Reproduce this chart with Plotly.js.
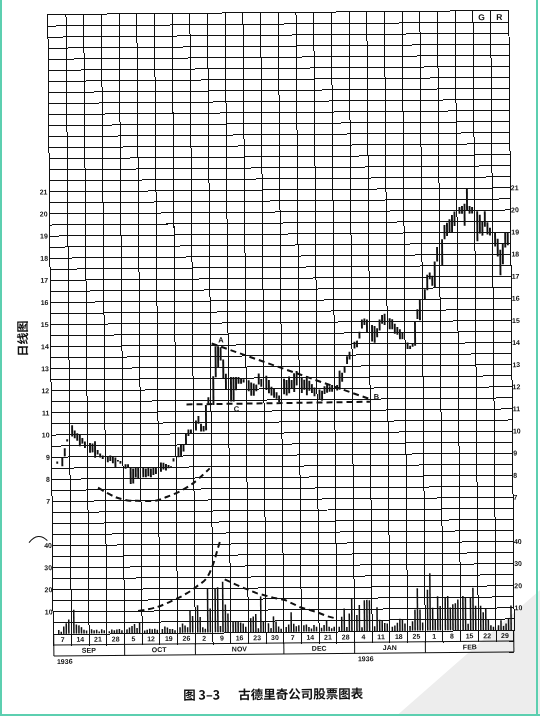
<!DOCTYPE html>
<html><head><meta charset="utf-8">
<script src="https://cdn.plot.ly/plotly-3.0.1.min.js"></script>
<style>
html,body{margin:0;padding:0;background:#fff;overflow:hidden;width:540px;height:716px;}
#chart{position:absolute;left:0;top:0;width:540px;height:716px;transform:rotate(-0.5deg);transform-origin:281px 322.5px;filter:grayscale(100%);}
.edge{position:absolute;background:#5ccfb0;}
</style></head>
<body>
<div id="chart"></div>
<div class="edge" style="left:0;top:0;width:2px;height:716px"></div>
<div class="edge" style="left:536px;top:0;width:2px;height:716px"></div>
<div class="edge" style="left:0;top:714px;width:540px;height:2px"></div>
<script>
// ---------- data ----------
const weekEnding = ['1935-09-07','1935-09-14','1935-09-21','1935-09-28','1935-10-05','1935-10-12','1935-10-19','1935-10-26',
  '1935-11-02','1935-11-09','1935-11-16','1935-11-23','1935-11-30','1935-12-07','1935-12-14','1935-12-21','1935-12-28',
  '1936-01-04','1936-01-11','1936-01-18','1936-01-25','1936-02-01','1936-02-08','1936-02-15','1936-02-22','1936-02-29'];
const weekLabels = ['7','14','21','28','5','12','19','26','2','9','16','23','30','7','14','21','28','4','11','18','25','1','8','15','22','29'];
const monthNames = ['SEP','OCT','NOV','DEC','JAN','FEB'];
const monthWeekCount = [4,4,5,4,4,5];
const yearLabels = ['1936','1936'];
const yearStartWeek = [0,17];
const priceTickLabels = [7,8,9,10,11,12,13,14,15,16,17,18,19,20,21];
const volumeTickLabels = [10,20,30,40];

// daily high / low (Mon..Sat of each week), volume
const dayHigh = [
 [null,8.8,null,8.96,9.4,9.8],
 [10.44,10.2,10.07,10.0,9.85,9.7],
 [9.63,9.6,9.7,9.3,9.15,9.05],
 [9.0,9.05,9.0,8.96,8.82,8.8],
 [8.65,8.65,8.5,8.45,8.5,8.5],
 [8.5,8.45,8.5,8.45,8.5,8.5],
 [8.72,8.7,8.65,8.6,8.52,8.9],
 [9.4,9.5,9.5,10.0,10.2,10.2],
 [10.6,10.8,10.45,10.35,11.3,11.65],
 [12.6,13.95,13.95,13.9,13.35,12.7],
 [12.55,12.55,12.55,12.55,12.5,12.45],
 [12.4,12.3,12.25,12.2,12.7,12.45],
 [12.6,12.4,12.1,12.0,11.85,11.7],
 [12.45,12.4,12.55,12.4,12.7,12.8],
 [12.5,12.4,12.55,12.35,12.2,12.05],
 [11.95,11.9,12.1,12.15,12.1,12.15],
 [12.15,12.8,12.7,13.0,13.45,13.65],
 [14.1,14.15,14.55,15.1,15.15,15.1],
 [14.85,14.8,14.7,15.1,15.3,15.35],
 [15.15,15.1,14.9,14.75,14.65,14.5],
 [14.05,13.9,14.0,15.0,15.55,16.0],
 [16.45,17.1,17.2,17.05,17.7,18.35],
 [18.7,19.35,19.45,19.6,19.8,19.95],
 [20.15,20.2,20.3,21.0,20.2,20.15],
 [19.95,19.8,19.5,19.95,19.45,19.2],
 [19.0,18.7,18.2,18.5,19.0,19.0]
];
const dayLow = [
 [null,8.7,null,8.58,9.03,9.7],
 [9.93,9.85,9.73,9.48,9.6,9.4],
 [9.18,9.2,8.96,9.1,8.96,8.9],
 [8.75,8.8,8.7,8.5,8.78,8.68],
 [8.45,8.5,7.75,7.78,8.05,8.0],
 [8.05,8.05,8.1,8.05,8.15,8.2],
 [8.3,8.4,8.35,8.45,8.47,8.75],
 [8.95,9.0,9.2,9.5,9.9,10.0],
 [10.15,10.45,10.1,10.1,10.15,11.35],
 [11.3,12.55,13.0,13.3,12.5,12.0],
 [11.45,11.45,11.95,12.25,12.25,12.3],
 [11.9,11.7,11.7,11.9,12.2,12.1],
 [11.95,11.8,11.7,11.6,11.55,11.4],
 [11.75,11.7,11.8,12.0,11.85,12.15],
 [11.8,11.95,11.7,11.9,11.8,11.65],
 [11.5,11.45,11.75,11.8,11.85,11.85],
 [11.9,11.95,12.3,12.7,13.1,13.3],
 [13.8,13.85,14.25,14.7,14.85,14.5],
 [14.1,14.05,14.3,14.6,14.9,14.85],
 [14.65,14.65,14.45,14.4,14.2,14.2],
 [13.75,13.75,13.85,13.9,15.1,15.05],
 [16.0,16.4,16.9,16.6,16.55,17.7],
 [17.5,18.7,18.85,19.0,19.0,19.3],
 [19.85,19.85,19.3,20.0,19.85,19.85],
 [18.6,18.95,18.85,19.25,18.9,18.85],
 [18.35,17.9,17.05,17.55,18.3,18.4]
];
const dayVolume = [
 [null,1.8,1.0,3.3,4.8,6.5],
 [10.9,4.2,3.8,3.0,1.8,1.5],
 [2.0,1.5,1.8,1.0,2.0,1.5],
 [1.0,1.8,1.5,1.8,2.0,1.4],
 [1.8,2.6,3.3,4.2,2.4,4.8],
 [1.2,1.5,2.0,1.8,2.0,1.5],
 [1.8,3.0,2.5,1.8,1.8,1.2],
 [2.5,4.2,3.3,2.5,10.0,7.6],
 [12.4,7.1,2.5,1.8,20.0,10.9],
 [20.0,20.5,3.0,23.0,12.7,8.6],
 [4.8,4.8,5.0,4.5,4.0,2.5],
 [6.4,7.1,8.2,1.8,16.2,4.8],
 [4.0,1.8,7.1,4.8,2.5,1.5],
 [2.2,3.4,8.9,3.7,2.5,3.0],
 [3.0,3.3,2.2,1.5,3.0,2.2],
 [1.8,3.0,5.2,2.2,1.5,2.2],
 [2.2,6.7,10.4,2.0,8.1,14.8],
 [7.4,11.9,1.8,14.0,14.2,14.0],
 [2.2,10.8,5.2,4.9,3.7,3.4],
 [1.9,2.5,3.7,5.5,5.2,3.4],
 [2.2,4.4,9.6,19.3,9.6,3.7],
 [18.5,26.0,10.4,5.2,15.6,11.1],
 [14.8,15.6,10.4,11.9,12.3,14.0],
 [15.6,14.8,3.0,14.8,19.3,11.1],
 [11.1,8.1,9.6,4.9,2.2,1.5],
 [2.2,4.4,1.9,3.0,5.2,11.1]
];

// hand-drawn dashed study lines
const roundingBottomDates = ['1935-09-19 13:00','1935-09-26 19:00','1935-10-02 02:00','1935-10-05 02:00','1935-10-12 16:00','1935-10-16 15:00','1935-10-21 22:00','1935-10-27 03:00','1935-11-02 19:00'];
const roundingBottomPrices = [7.6,7.15,7.0,6.99,7.0,7.15,7.4,7.76,8.43];
const triangleTopDates = ['1935-11-04 00:00','1936-01-05 10:00'];
const triangleTopPrices = [14.08,11.5];
const triangleBaseDates = ['1935-10-24 20:00','1936-01-05 10:00'];
const triangleBasePrices = [11.33,11.38];
const volumeRiseDates = ['1935-10-04 23:00','1935-10-12 06:00','1935-10-18 19:00','1935-10-24 02:00','1935-10-28 02:00','1935-11-01 01:00','1935-11-03 17:00','1935-11-05 17:00','1935-11-07 00:00'];
const volumeRiseValues = [10.1,11.7,14.7,17.7,20.8,24.5,30.6,38,42.7];
const volumeFallDates = ['1935-11-08 08:00','1935-11-14 07:00','1935-11-20 22:00','1935-11-27 12:00','1935-12-02 03:00','1935-12-08 02:00','1935-12-14 16:00','1935-12-18 16:00','1935-12-21 23:00'];
const volumeFallValues = [24,20.8,17.7,15.5,14.5,11.1,8.9,7,6];
const pointLabels = ['A','B','C'];
const pointLabelDates = ['1935-11-07 19:00','1936-01-08 00:00','1935-11-13 14:00'];
const pointLabelPrices = [14.25,11.6,11.1];
const cornerLabels = ['G','R'];
const cornerLabelWeeks = [24,25];

// ---------- helpers ----------
const DAY = 86400000, HOUR = 3600000;
function toMs(s){ const p=s.split(' '); const d=p[0].split('-').map(Number); let h=0,mi=0; if(p[1]){const t=p[1].split(':').map(Number);h=t[0];mi=t[1];} return Date.UTC(d[0],d[1]-1,d[2],h,mi); }
function toStr(ms){ return new Date(ms).toISOString().slice(0,16).replace('T',' '); }
const weekStart = w => toMs(weekEnding[w]) - 6*DAY + 12*HOUR;
const weekEnd = w => toMs(weekEnding[w]) + DAY + 12*HOUR;
const weekCenter = w => toMs(weekEnding[w]) - 2*DAY;
const xRange = [toStr(weekStart(0)), toStr(weekEnd(weekEnding.length-1))];

const bx=[], bBase=[], bH=[], vx=[], vy=[];
for(let w=0; w<weekEnding.length; w++){
  for(let d=0; d<6; d++){
    const x = toStr(toMs(weekEnding[w]) - (5-d)*DAY + 12*HOUR);
    if(dayHigh[w][d]!=null){ bx.push(x); bBase.push(dayLow[w][d]); bH.push(Math.max(dayHigh[w][d]-dayLow[w][d],0.07)); }
    if(dayVolume[w][d]!=null){ vx.push(x); vy.push(dayVolume[w][d]); }
  }
}

const INK = '#111';
const dashLine = {color:INK, width:2, dash:'6px,4px'};
const traces = [
  {type:'bar', x:bx, base:bBase, y:bH, width:0.75*DAY, marker:{color:INK, line:{width:0}}, xaxis:'x', yaxis:'y'},
  {type:'bar', x:vx, y:vy, width:0.6*DAY, marker:{color:INK, line:{width:0}}, xaxis:'x2', yaxis:'y2'},
  {type:'scatter', mode:'lines', x:roundingBottomDates, y:roundingBottomPrices, line:Object.assign({shape:'spline'},dashLine), xaxis:'x', yaxis:'y'},
  {type:'scatter', mode:'lines', x:triangleTopDates, y:triangleTopPrices, line:dashLine, xaxis:'x', yaxis:'y'},
  {type:'scatter', mode:'lines', x:triangleBaseDates, y:triangleBasePrices, line:dashLine, xaxis:'x', yaxis:'y'},
  {type:'scatter', mode:'lines', x:volumeRiseDates, y:volumeRiseValues, line:Object.assign({shape:'spline'},dashLine), xaxis:'x2', yaxis:'y2'},
  {type:'scatter', mode:'lines', x:volumeFallDates, y:volumeFallValues, line:dashLine, xaxis:'x2', yaxis:'y2'},
  {type:'scatter', mode:'markers', x:[], y:[], xaxis:'x', yaxis:'y3'},
  {type:'scatter', mode:'markers', x:[], y:[], xaxis:'x', yaxis:'y4'}
];

// price grid every half point
const priceGrid = [], priceGridText = [];
for(let v=1; v<=29; v+=0.5){ priceGrid.push(v); priceGridText.push(priceTickLabels.includes(v)? String(v) : ''); }

const PH = 619; // plot height in px
const rowWeek = -11/PH, rowMonth = -22/PH;
const tickFont = {family:'Liberation Sans, Arial, sans-serif', size:7, color:INK, weight:700};

const shapes = [
  {type:'path', xref:'paper', yref:'paper', layer:'below', path:'M 0.745 -0.136 L 1.07 0.072 L 1.07 -0.136 Z', fillcolor:'#ededed', line:{width:0}},
  {type:'line', xref:'paper', yref:'paper', x0:0, x1:1, y0:rowWeek, y1:rowWeek, line:{color:INK, width:1}},
  {type:'line', xref:'paper', yref:'paper', x0:0, x1:1, y0:rowMonth, y1:rowMonth, line:{color:INK, width:1}},
  {type:'line', xref:'paper', yref:'paper', x0:0, x1:0, y0:rowMonth, y1:0, line:{color:INK, width:1}},
  {type:'line', xref:'paper', yref:'paper', x0:1, x1:1, y0:rowMonth, y1:0, line:{color:INK, width:1}},
  {type:'path', xref:'paper', yref:'paper', path:'M -0.052 0.148 Q -0.032 0.166 -0.012 0.151', line:{color:INK, width:1}}
];
const annotations = [];
let wk = 0;
monthNames.forEach((m,i)=>{
  const s = weekStart(wk), e = weekEnd(wk+monthWeekCount[i]-1);
  if(i>0) shapes.push({type:'line', xref:'x', yref:'paper', x0:toStr(s), x1:toStr(s), y0:rowMonth, y1:rowWeek, line:{color:INK, width:1}});
  annotations.push({text:m, xref:'x', yref:'paper', x:toStr((s+e)/2), y:(rowWeek+rowMonth)/2, showarrow:false, font:tickFont, xanchor:'center', yanchor:'middle'});
  wk += monthWeekCount[i];
});
yearLabels.forEach((t,i)=>{
  annotations.push({text:t, xref:'x', yref:'paper', x:toStr(weekStart(yearStartWeek[i])), y:rowMonth-5/PH, showarrow:false, font:tickFont, xanchor:'left', yanchor:'middle', xshift:1});
});
pointLabels.forEach((t,i)=>{
  annotations.push({text:t, xref:'x', yref:'y', x:pointLabelDates[i], y:pointLabelPrices[i], showarrow:false, font:Object.assign({},tickFont,{size:7.5}), xanchor:'center', yanchor:'middle'});
});
cornerLabels.forEach((t,i)=>{
  annotations.push({text:t, xref:'x', yref:'y', x:toStr(weekCenter(cornerLabelWeeks[i])), y:28.75, showarrow:false, font:Object.assign({},tickFont,{size:8.5}), xanchor:'center', yanchor:'middle'});
});
annotations.push({text:'日线图', xref:'paper', yref:'paper', x:-0.065, y:0.478, textangle:-90, showarrow:false,
  font:{family:'Noto Sans CJK SC', size:12, weight:700, color:INK}, xanchor:'center', yanchor:'middle'});

const axisCommon = {color:INK, zeroline:false, fixedrange:true, tickfont:tickFont};
const layout = {
  width:540, height:716,
  margin:{l:51, r:29, t:13, b:84, pad:0},
  paper_bgcolor:'rgba(0,0,0,0)', plot_bgcolor:'rgba(0,0,0,0)',
  showlegend:false, barmode:'overlay', hovermode:false, dragmode:false,
  font:{family:'Liberation Sans, Arial, sans-serif', color:INK, size:7},
  title:{text:'图 3–3\u3000\u00a0\u00a0古德里奇公司股票图表', font:{family:'Noto Sans CJK SC', size:12.5, weight:700, color:INK},
    xref:'container', yref:'container', x:0.5, y:0.03, xanchor:'center', yanchor:'middle'},
  xaxis:Object.assign({}, axisCommon, {type:'date', range:xRange, tickmode:'linear', tick0:xRange[0], dtick:7*DAY, ticks:'outside', ticklen:11, tickwidth:1, tickcolor:INK,
    showticklabels:false, showgrid:true, gridcolor:INK, gridwidth:1, showline:true, mirror:true, linecolor:INK, linewidth:1}),
  xaxis2:Object.assign({}, axisCommon, {type:'date', overlaying:'x', anchor:'y2', range:xRange, tickmode:'array', tickvals:weekEnding.map((_,w)=>toStr(weekCenter(w))), ticktext:weekLabels,
    ticks:'', showgrid:false, showline:false}),
  yaxis:Object.assign({}, axisCommon, {range:[1,29], tickmode:'array', tickvals:priceGrid, ticktext:priceGridText, ticks:'', showgrid:true, gridcolor:INK, gridwidth:1,
    showline:true, mirror:true, linecolor:INK, linewidth:1}),
  yaxis2:Object.assign({}, axisCommon, {overlaying:'y', anchor:'x2', side:'left', range:[0,280], tickmode:'array', tickvals:volumeTickLabels, ticktext:volumeTickLabels.map(String),
    ticks:'', showgrid:false, showline:false}),
  yaxis3:Object.assign({}, axisCommon, {overlaying:'y', anchor:'x', side:'right', range:[1,29], tickmode:'array', tickvals:priceTickLabels, ticktext:priceTickLabels.map(String),
    ticks:'', showgrid:false, showline:false}),
  yaxis4:Object.assign({}, axisCommon, {overlaying:'y', anchor:'x', side:'right', range:[0,280], tickmode:'array', tickvals:volumeTickLabels, ticktext:volumeTickLabels.map(String),
    ticks:'', showgrid:false, showline:false}),
  shapes:shapes, annotations:annotations
};
Plotly.newPlot('chart', traces, layout, {staticPlot:true, displayModeBar:false});
</script>
</body></html>
